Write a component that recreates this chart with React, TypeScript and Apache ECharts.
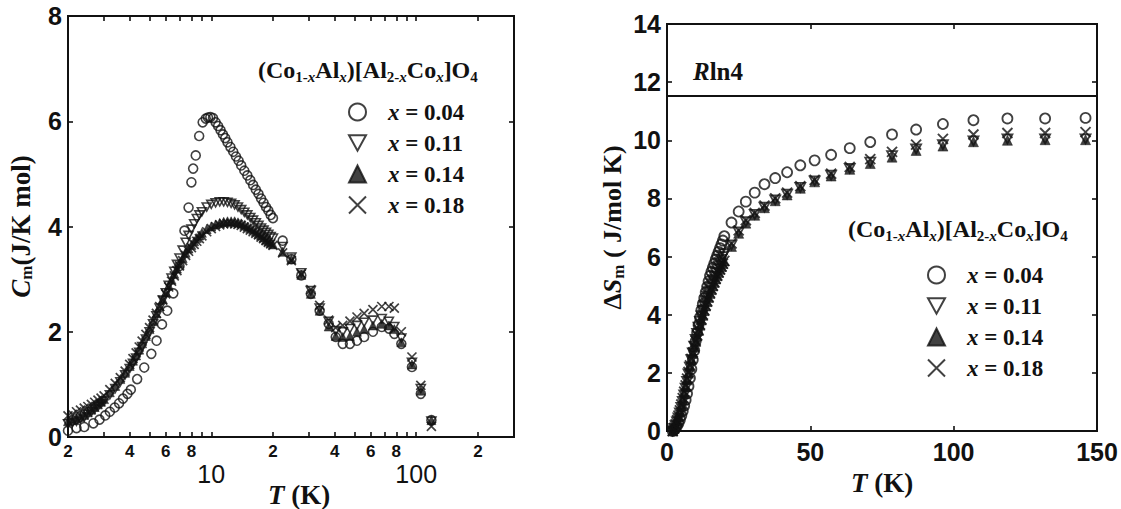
import React, { useEffect, useRef } from 'react';
import * as echarts from 'echarts';

// ---------- data: left panel, C_m vs T (log T) ----------
const seriesNames = ['x = 0.04', 'x = 0.11', 'x = 0.14', 'x = 0.18'];

const tLeft04 = [2.0, 2.2, 2.4, 2.66, 2.85, 3.04, 3.2, 3.38, 3.55, 3.71, 3.9, 4.05, 4.35, 4.71, 5.1, 5.41, 5.75, 6.1, 6.53, 7.0, 7.4, 7.75, 8.0, 8.16, 8.4, 8.73, 9.08, 9.4, 9.64, 9.9, 10.2, 10.5, 10.8, 11.1, 11.4, 11.7, 12.0, 12.4, 12.8, 13.2, 13.6, 14.0, 14.5, 15.0, 15.5, 16.0, 16.5, 17.0, 17.5, 18.0, 18.5, 19.0, 19.5, 20.0, 22.3, 24.6, 27.5, 30.6, 33.8, 37.4, 40.5, 43.8, 47.5, 51.4, 55.7, 61.5, 67.9, 73.6, 78.2, 84.6, 95.3, 105.3, 118.6];
const cLeft04 = [0.12, 0.17, 0.19, 0.26, 0.33, 0.41, 0.48, 0.56, 0.64, 0.73, 0.82, 0.9, 1.1, 1.32, 1.58, 1.83, 2.14, 2.4, 2.73, 3.25, 3.92, 4.36, 4.84, 5.1, 5.35, 5.72, 5.98, 6.05, 6.07, 6.08, 6.06, 5.98, 5.91, 5.83, 5.75, 5.68, 5.6, 5.51, 5.42, 5.33, 5.25, 5.16, 5.06, 4.97, 4.88, 4.79, 4.7, 4.62, 4.53, 4.45, 4.37, 4.3, 4.22, 4.16, 3.73, 3.38, 3.07, 2.72, 2.4, 2.15, 1.9, 1.77, 1.77, 1.83, 1.9, 2.0, 2.09, 2.06, 1.96, 1.77, 1.33, 0.82, 0.32];

const tLeft = [2.0, 2.1, 2.2, 2.3, 2.4, 2.5, 2.6, 2.7, 2.8, 2.9, 3.0, 3.2, 3.4, 3.6, 3.8, 4.0, 4.15, 4.3, 4.45, 4.6, 4.8, 5.0, 5.2, 5.4, 5.6, 5.8, 6.0, 6.2, 6.4, 6.6, 6.8, 7.0, 7.25, 7.5, 7.75, 8.0, 8.25, 8.5, 8.75, 9.0, 9.5, 10, 10.5, 11, 11.5, 12, 12.5, 13, 13.5, 14, 14.5, 15, 15.5, 16, 16.5, 17, 17.5, 18, 18.5, 19, 19.5, 20, 22.3, 24.6, 27.5, 30.6, 33.8, 37.4, 40.5, 43.8, 47.5, 51.4, 55.7, 61.5, 67.9, 73.6, 78.2, 84.6, 95.3, 105.3, 118.6];
const cLeft11 = [0.25, 0.27, 0.3, 0.34, 0.38, 0.43, 0.48, 0.53, 0.58, 0.63, 0.68, 0.8, 0.92, 1.05, 1.18, 1.3, 1.4, 1.5, 1.61, 1.72, 1.86, 2.0, 2.15, 2.3, 2.45, 2.6, 2.74, 2.88, 3.02, 3.15, 3.28, 3.4, 3.55, 3.7, 3.83, 3.95, 4.05, 4.15, 4.22, 4.28, 4.37, 4.42, 4.45, 4.47, 4.47, 4.46, 4.44, 4.41, 4.37, 4.32, 4.27, 4.22, 4.17, 4.12, 4.07, 4.02, 3.97, 3.93, 3.89, 3.85, 3.81, 3.78, 3.62, 3.42, 3.12, 2.78, 2.45, 2.2, 2.02, 2.0, 2.06, 2.12, 2.18, 2.22, 2.25, 2.2, 2.1, 1.88, 1.42, 0.92, 0.3];
const cLeft14 = [0.3, 0.32, 0.35, 0.38, 0.42, 0.47, 0.52, 0.57, 0.62, 0.67, 0.72, 0.85, 0.97, 1.1, 1.22, 1.35, 1.45, 1.55, 1.66, 1.78, 1.92, 2.05, 2.2, 2.35, 2.49, 2.62, 2.75, 2.88, 2.99, 3.1, 3.2, 3.3, 3.4, 3.5, 3.58, 3.65, 3.72, 3.78, 3.83, 3.88, 3.95, 4.0, 4.04, 4.07, 4.09, 4.1, 4.1, 4.1, 4.08, 4.06, 4.03, 4.0, 3.97, 3.94, 3.9, 3.86, 3.83, 3.79, 3.75, 3.72, 3.69, 3.66, 3.52, 3.38, 3.08, 2.72, 2.4, 2.1, 1.92, 1.9, 1.92, 2.0, 2.05, 2.12, 2.15, 2.12, 2.05, 1.8, 1.38, 0.88, 0.32];
const cLeft18 = [0.4, 0.43, 0.48, 0.51, 0.55, 0.58, 0.62, 0.66, 0.7, 0.74, 0.78, 0.9, 1.02, 1.13, 1.25, 1.38, 1.49, 1.6, 1.71, 1.82, 1.95, 2.08, 2.22, 2.35, 2.48, 2.6, 2.72, 2.85, 2.96, 3.06, 3.16, 3.25, 3.35, 3.45, 3.53, 3.6, 3.66, 3.72, 3.77, 3.82, 3.9, 3.96, 4.0, 4.03, 4.05, 4.06, 4.06, 4.05, 4.04, 4.02, 3.99, 3.96, 3.93, 3.9, 3.87, 3.84, 3.8, 3.77, 3.73, 3.7, 3.67, 3.64, 3.5, 3.35, 3.1, 2.8, 2.5, 2.22, 2.08, 2.12, 2.2, 2.28, 2.35, 2.42, 2.48, 2.48, 2.45, 2.0, 1.52, 0.98, 0.2];

// ---------- data: right panel, ΔS_m vs T ----------
const tRightLow = [2, 2.5, 3, 3.5, 4, 4.5, 5, 5.5, 6, 6.5, 7, 7.5, 8, 8.5, 9, 9.5, 10, 10.5, 11, 11.5, 12, 12.5, 13, 13.5, 14, 14.5, 15, 15.5, 16, 16.5, 17, 17.5, 18, 18.5, 19, 19.5, 20];
const sLow04 = [0, 0.04, 0.1, 0.18, 0.27, 0.39, 0.53, 0.69, 0.87, 1.07, 1.29, 1.54, 1.82, 2.13, 2.45, 2.77, 3.09, 3.38, 3.65, 3.91, 4.16, 4.37, 4.57, 4.77, 4.96, 5.15, 5.34, 5.48, 5.62, 5.76, 5.9, 6.03, 6.16, 6.29, 6.42, 6.55, 6.7];
const sLow11 = [0, 0.08, 0.18, 0.31, 0.45, 0.62, 0.81, 1.02, 1.24, 1.47, 1.71, 1.96, 2.2, 2.45, 2.69, 2.92, 3.15, 3.36, 3.57, 3.77, 3.96, 4.14, 4.31, 4.48, 4.64, 4.79, 4.93, 5.07, 5.21, 5.33, 5.45, 5.57, 5.68, 5.79, 5.9, 6.0, 6.1];
const sLow14 = [0, 0.09, 0.2, 0.33, 0.48, 0.66, 0.86, 1.07, 1.29, 1.52, 1.76, 1.99, 2.22, 2.45, 2.67, 2.88, 3.08, 3.27, 3.46, 3.64, 3.82, 3.98, 4.14, 4.3, 4.45, 4.59, 4.73, 4.86, 4.99, 5.11, 5.23, 5.34, 5.45, 5.56, 5.66, 5.76, 5.85];
const sLow18 = [0, 0.11, 0.23, 0.37, 0.53, 0.71, 0.91, 1.13, 1.35, 1.57, 1.8, 2.03, 2.26, 2.48, 2.7, 2.91, 3.11, 3.3, 3.48, 3.66, 3.84, 4.0, 4.16, 4.32, 4.47, 4.61, 4.75, 4.88, 5.0, 5.12, 5.24, 5.35, 5.46, 5.56, 5.66, 5.76, 5.85];

const tRightHigh = [22.5, 25, 27.5, 30.6, 34, 37.75, 41.9, 46.5, 51.5, 57.25, 63.75, 70.9, 78.5, 86.9, 96.25, 106.9, 118.75, 131.9, 146];
const sHigh04 = [7.17, 7.55, 7.89, 8.2, 8.49, 8.7, 8.9, 9.14, 9.31, 9.5, 9.73, 9.94, 10.2, 10.37, 10.56, 10.69, 10.75, 10.75, 10.77];
const sHigh11 = [6.4, 6.85, 7.2, 7.45, 7.7, 7.95, 8.15, 8.38, 8.6, 8.8, 9.03, 9.25, 9.47, 9.7, 9.85, 9.98, 10.05, 10.05, 10.05];
const sHigh14 = [6.35, 6.8, 7.15, 7.42, 7.68, 7.92, 8.12, 8.35, 8.57, 8.77, 9.0, 9.2, 9.42, 9.65, 9.8, 9.95, 10.0, 10.02, 10.02];
const sHigh18 = [6.45, 6.9, 7.25, 7.5, 7.75, 8.0, 8.2, 8.42, 8.64, 8.85, 9.08, 9.35, 9.6, 9.85, 10.05, 10.2, 10.25, 10.25, 10.28];

const rln4Value = 11.53;

// ---------- axes ----------
const leftXMin = 2;
const leftXMax = 300;
const leftXTicks = [2, 3, 4, 5, 6, 7, 8, 9, 10, 20, 30, 40, 50, 60, 70, 80, 90, 100, 200];
const leftXLabels = [2, 4, 6, 8, 10, 20, 40, 60, 80, 100, 200];
const leftXMajor = [10, 100];
const leftYMax = 8;
const rightXMax = 150;
const rightYMax = 14;

const W = 1121;
const H = 509;
const INK = '#111111';
const SANS = '"Liberation Sans", Arial, sans-serif';
const SERIF = '"Liberation Serif", "Times New Roman", serif';

const pair = (xs: number[], ys: number[]) => xs.map((x, i) => [x, ys[i]]);

const serifRich = (size: number, sub: number, drop: number) => ({
  n: { fontFamily: SERIF, fontWeight: 'bold', fontSize: size, color: INK },
  i: { fontFamily: SERIF, fontWeight: 'bold', fontStyle: 'italic', fontSize: size, color: INK },
  s: { fontFamily: SERIF, fontWeight: 'bold', fontSize: sub, color: INK, padding: [drop, 0, 0, 0] },
  si: { fontFamily: SERIF, fontWeight: 'bold', fontStyle: 'italic', fontSize: sub, color: INK, padding: [drop, 0, 0, 0] },
});

const FORMULA = '{n|(Co}{s|1-}{si|x}{n|Al}{si|x}{n|)[Al}{s|2-}{si|x}{n|Co}{si|x}{n|]O}{s|4}';

const symbolOf = (bw: number) => [
  { symbol: 'circle', itemStyle: { color: 'rgba(255,255,255,0)', borderColor: INK, borderWidth: bw } },
  { symbol: 'path://M0,0L10,0L5,9Z', itemStyle: { color: 'rgba(255,255,255,0)', borderColor: INK, borderWidth: bw } },
  { symbol: 'triangle', itemStyle: { color: INK, borderColor: INK, borderWidth: 0.6 } },
  { symbol: 'path://M0,0L10,10M10,0L0,10', itemStyle: { color: 'rgba(255,255,255,0)', borderColor: INK, borderWidth: bw + 0.1 } },
];

const leftData = [pair(tLeft04, cLeft04), pair(tLeft, cLeft11), pair(tLeft, cLeft14), pair(tLeft, cLeft18)];
const rightData = [
  pair(tRightLow, sLow04).concat(pair(tRightHigh, sHigh04)),
  pair(tRightLow, sLow11).concat(pair(tRightHigh, sHigh11)),
  pair(tRightLow, sLow14).concat(pair(tRightHigh, sHigh14)),
  pair(tRightLow, sLow18).concat(pair(tRightHigh, sHigh18)),
];

const tickLine = { show: true, inside: true, length: 5, lineStyle: { color: INK, width: 1.6 } };
const noLine = { show: false, onZero: false };
const noSplit = { show: false };

const leftLogMin = Math.log10(leftXMin);
const leftLogMax = Math.log10(leftXMax);

const legendCommon = {
  orient: 'vertical',
  itemWidth: 17,
  itemHeight: 17,
  itemGap: 7,
  selectedMode: false,
  data: seriesNames,
  formatter: (name: string) => `{i|x}{n| = ${name.split('= ')[1]}}`,
  textStyle: {
    padding: [0, 0, 0, 17],
    lineHeight: 24,
    rich: serifRich(23, 14, 0),
  },
};

const option: any = {
  animation: false,
  backgroundColor: '#ffffff',
  title: [
    { left: 258, top: 55, padding: 0, text: FORMULA, textStyle: { rich: serifRich(24, 15, 14) } },
    { left: 848, top: 214, padding: 0, text: FORMULA, textStyle: { rich: serifRich(24, 15, 14) } },
    { left: 693, top: 59, padding: 0, text: '{i|R}{n|ln4}', textStyle: { rich: serifRich(25, 15, 0) } },
  ],
  legend: [
    { ...legendCommon, left: 343, top: 95 },
    { ...legendCommon, left: 922, top: 258 },
  ],
  grid: [
    { left: 68, top: 16, width: 446, height: 421, show: true, borderColor: INK, borderWidth: 2, containLabel: false, outerBoundsMode: 'none' },
    { left: 667, top: 24, width: 430, height: 407, show: true, borderColor: INK, borderWidth: 2, containLabel: false, outerBoundsMode: 'none' },
  ],
  xAxis: [
    { type: 'log', gridIndex: 0, logBase: 10, min: leftXMin, max: leftXMax, show: false },
    {
      type: 'value', gridIndex: 0, position: 'bottom', min: leftLogMin, max: leftLogMax,
      axisLine: noLine, splitLine: noSplit,
      axisTick: { ...tickLine, customValues: leftXTicks.map((t) => Math.log10(t)) },
      axisLabel: {
        margin: 6,
        customValues: leftXLabels.map((t) => Math.log10(t)),
        formatter: (v: number) => {
          const t = Math.round(Math.pow(10, v));
          if (leftXMajor.indexOf(t) >= 0) return `{e| }\n{b|${t}}`;
          const lead = t >= 100 ? t / 100 : t >= 10 ? t / 10 : t;
          return `{s|${lead}}`;
        },
        rich: {
          s: { fontFamily: SANS, fontWeight: 'bold', fontSize: 17, lineHeight: 17, color: INK },
          e: { fontFamily: SANS, fontSize: 17, lineHeight: 17, color: INK },
          b: { fontFamily: SANS, fontSize: 25, lineHeight: 27, color: INK },
        },
      },
      name: '{i|T}{n| (K)}', nameLocation: 'middle', nameGap: 44, nameMoveOverlap: false,
      nameTextStyle: { rich: serifRich(27, 16, 0), padding: [0, 0, 0, 16] },
    },
    {
      type: 'value', gridIndex: 0, position: 'top', min: leftLogMin, max: leftLogMax,
      axisLine: noLine, splitLine: noSplit, axisLabel: { show: false },
      axisTick: { ...tickLine, customValues: leftXTicks.map((t) => Math.log10(t)) },
    },
    {
      type: 'value', gridIndex: 1, position: 'bottom', min: 0, max: rightXMax, interval: 50,
      axisLine: noLine, splitLine: noSplit, axisTick: tickLine,
      axisLabel: { margin: 8, fontFamily: SANS, fontWeight: 'bold', fontSize: 25, color: INK },
      name: '{i|T}{n| (K)}', nameLocation: 'middle', nameGap: 38, nameMoveOverlap: false,
      nameTextStyle: { rich: serifRich(27, 16, 0) },
    },
    {
      type: 'value', gridIndex: 1, position: 'top', min: 0, max: rightXMax, interval: 50,
      axisLine: noLine, splitLine: noSplit, axisTick: tickLine, axisLabel: { show: false },
    },
  ],
  yAxis: [
    {
      type: 'value', gridIndex: 0, position: 'left', min: 0, max: leftYMax, interval: 2,
      axisLine: noLine, splitLine: noSplit, axisTick: tickLine,
      axisLabel: { margin: 6, fontFamily: SANS, fontWeight: 'bold', fontSize: 25, color: INK },
      name: '{i|C}{s|m}{n|(J/K mol)}', nameLocation: 'middle', nameRotate: 90, nameGap: 33, nameMoveOverlap: false,
      nameTextStyle: { rich: serifRich(27, 17, 12) },
    },
    {
      type: 'value', gridIndex: 0, position: 'right', min: 0, max: leftYMax, interval: 2,
      axisLine: noLine, splitLine: noSplit, axisTick: tickLine, axisLabel: { show: false },
    },
    {
      type: 'value', gridIndex: 1, position: 'left', min: 0, max: rightYMax, interval: 2,
      axisLine: noLine, splitLine: noSplit, axisTick: tickLine,
      axisLabel: { margin: 6, fontFamily: SANS, fontWeight: 'bold', fontSize: 25, color: INK },
      name: '{n|Δ}{i|S}{s|m}{n| ( J/mol K)}', nameLocation: 'middle', nameRotate: 90, nameGap: 40, nameMoveOverlap: false,
      nameTextStyle: { rich: serifRich(26, 17, 12) },
    },
    {
      type: 'value', gridIndex: 1, position: 'right', min: 0, max: rightYMax, interval: 2,
      axisLine: noLine, splitLine: noSplit, axisTick: tickLine, axisLabel: { show: false },
    },
  ],
  series: [
    ...seriesNames.map((name, k) => ({
      type: 'scatter', name, xAxisIndex: 0, yAxisIndex: 0, symbolSize: 9, symbolKeepAspect: true,
      ...symbolOf(1.6)[k], data: leftData[k], z: 10 - k,
    })),
    ...seriesNames.map((name, k) => ({
      type: 'scatter', name, xAxisIndex: 3, yAxisIndex: 2, symbolSize: 10, symbolKeepAspect: true,
      ...symbolOf(1.8)[k], data: rightData[k], z: 10 - k,
      markLine: k === 0 ? {
        silent: true, symbol: ['none', 'none'], label: { show: false },
        lineStyle: { color: INK, width: 2, type: 'solid' },
        data: [{ yAxis: rln4Value }],
      } : undefined,
    })),
  ],
};

export default function App() {
  const ref = useRef<HTMLDivElement>(null);
  useEffect(() => {
    const chart = echarts.init(ref.current as HTMLDivElement, null, { renderer: 'svg', width: W, height: H });
    chart.setOption(option);
    return () => chart.dispose();
  }, []);
  return (
    <div
      ref={ref}
      style={{ position: 'fixed', left: 0, top: 0, width: W, height: H, background: '#ffffff' }}
    />
  );
}
